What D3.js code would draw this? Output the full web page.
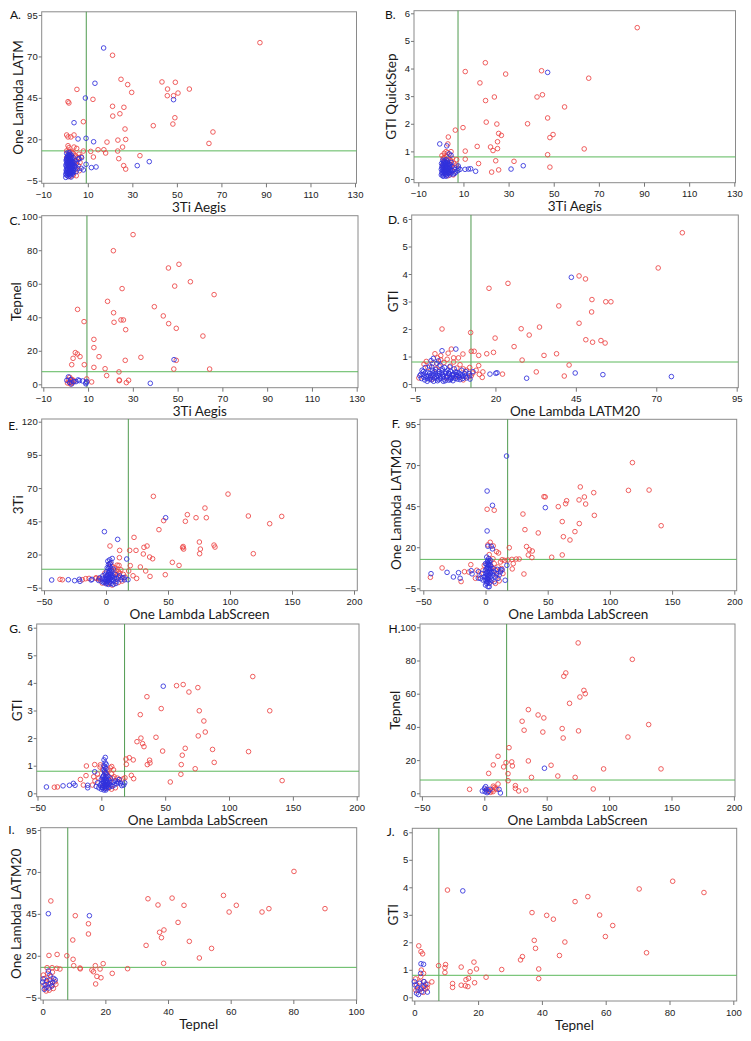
<!DOCTYPE html>
<html><head><meta charset="utf-8">
<script src="https://cdn.jsdelivr.net/npm/d3@7"></script>
<style>body{margin:0;background:#fff}svg{display:block}</style>
</head><body>
<svg id="chart" width="751" height="1041"></svg>
<script>
// ---------- tick labels ----------
const ticks3Ti = [-10,10,30,50,70,90,110,130];
const ticksLATM = [-5,20,45,70,95];
const ticksGTI = [0,1,2,3,4,5,6];
const ticksTepnel = [0,20,40,60,80,100];
const ticksLabScreen = [-50,0,50,100,150,200];
const ticks3TiY = [-5,20,45,70,95,120];

// ---------- panel labels ----------
const letters = ["A.","B.","C.","D.","E.","F.","G.","H.","I.","J."];
const xTitles = ["3Ti Aegis","3Ti Aegis","3Ti Aegis","One Lambda LATM20","One Lambda LabScreen","One Lambda LabScreen","One Lambda LabScreen","One Lambda LabScreen","Tepnel","Tepnel"];
const yTitles = ["One Lambda LATM","GTI QuickStep","Tepnel","GTI","3Ti","One Lambda LATM20","GTI","Tepnel","One Lambda LATM20","GTI"];
// cut-off reference lines (vertical = x cut-off, horizontal = y cut-off)
const vCuts = [9.3,7.6,9.5,12.4,18,17.8,18.2,17.9,8,7.7];
const hCuts = [13,0.8,7.5,0.8,8.9,12.6,0.8,8,13.1,0.8];

// ---------- series values [x, y] ----------
const aRed = [[87.3,78.3],[21.1,70.7],[24.9,56.2],[27.9,53],[29.7,48.3],[5.1,50.1],[12.3,44.1],[1.1,42.7],[1.5,41.9],[21.1,39.9],[26.2,39.3],[21.2,34],[24.4,35.4],[8,30.6],[26.7,26.2],[39.4,28.2],[43.3,54.6],[49.3,54.4],[45.8,50.3],[50.5,47.9],[55.6,50.3],[45.7,46.3],[48.5,46.3],[49.1,33],[48.2,29.2],[66.2,24.4],[64.4,17.5],[23.5,19.5],[27,19.9],[18.6,18.3],[25.6,15.3],[14.6,13.7],[17.2,13.7],[18,11.7],[11.3,12.7],[12.5,9.3],[23.4,12.9],[23.9,8.3],[33.4,10.1],[26.1,4.1],[27,2.0],[0.5,22.6],[1.1,21.4],[2.4,21.4],[3.8,22.6],[1.1,16.1],[1.5,14.9],[8,12.9],[3.8,15.3],[5,14.5],
  [3.5,11.5],[4.5,10],[5.5,9],[3.8,8.8],[5,7],[6.5,6],[4.2,5.5],[5.8,4],[4.6,2],[6.2,1],[3.5,-1.5],[4.8,-2],[2.5,12.5],[1.5,12.8],[0.5,13],[3,12],[6,11],[7,9.5],[2,-2.5],[0.5,9]];
const aBlue = [[17.1,75.1],[13.2,53.8],[8.9,44.9],[48.5,43.9],[3.8,30],[5.6,20.2],[9.2,20.6],[12.6,18.5],[32.2,4.1],[37.6,6.5],[13.7,3.3],[11.6,2.9],[9.2,4.9],[6,8.5],[7.2,8.9],
  [0.2,-1.5],[0.8,-1.8],[1.5,-1.2],[2.2,-1.6],[3,-1],[0.5,0],[1.2,0.3],[2,0.2],[2.8,0.5],[3.6,0],[0.3,1.5],[1,1.8],[1.8,1.4],[2.6,2],[3.4,1.6],[0.6,3],[1.4,3.3],[2.2,3],[3,3.4],[3.8,2.8],[0.2,4.6],[1,4.8],[1.8,4.5],[2.6,5],[3.4,4.6],[0.7,6.2],[1.5,6.4],[2.3,6.1],[3.1,6.6],[0.4,7.8],[1.2,8],[2,7.6],[2.8,8.2],[0.8,9.4],[1.6,9.6],[2.4,9.2],[1.2,10.8],[2,11],[0.5,11.5],[4.5,3.5],[5,5.5],[4.2,7],[5.5,2.2],[6,8],[7,2.5],[8,1.5],[4.8,0.5],[0.1,-3],[1.3,-2.5],[2.5,-2.8],
  [0.4,0.8],[1.6,0.9],[2.4,1.1],[3.2,0.4],[0.9,2.4],[1.7,2.2],[2.9,2.6],[0.3,3.8],[1.2,4],[2,3.9],[2.9,4],[0.6,5.5],[1.4,5.6],[2.1,5.3],[3,5.8],[0.3,7],[1,7.1],[1.8,6.9],[2.6,7.2],[0.6,8.6],[1.4,8.8],[2.2,8.4],[3.3,9],[1,10],[1.8,10.2],[2.6,10.5],[1.6,12],[0.2,-0.8],[1,-0.6],[1.9,-0.8],[2.7,-0.3],[3.6,1],[4,4.2],[3.8,6]];

const bRed = [[87,5.48],[19.7,4.21],[10.8,3.89],[28.7,3.8],[44.6,3.92],[65.5,3.65],[17.3,3.48],[23.7,2.97],[19.8,2.84],[42.6,2.97],[45,3.05],[54.8,2.61],[20.1,2.06],[24.8,1.99],[38.4,2],[47.3,2.21],[6.4,1.77],[9.8,1.86],[25.6,1.65],[26.8,1.58],[49.7,1.61],[48.3,1.5],[25.1,1.35],[16.1,1.18],[22,1.16],[23.1,1.03],[25.1,1.1],[63.5,1.09],[10.8,1.01],[47.3,0.88],[10.8,0.72],[24.3,0.66],[32.4,0.64],[16.7,0.56],[48.3,0.43],[25.6,0.33],[22.5,0.25],[3.3,1.52],[3.1,1.27],[2.3,0.99],[1.5,0.93],[4.5,0.99],[4.5,0.65],[1.1,0.75],
  [3.5,0.72],[4.2,0.68],[1.5,0.78],[2.5,0.82],[5,0.75],[3,0.95],[0.5,0.85],[4.5,0.5],[5.8,0.55],[6.2,0.42],[4.8,0.3],[3.2,0.12],[5.5,0.15],[6.8,0.5],[2,0.62],[0.8,0.5],[7,0.7]];
const bBlue = [[47.3,3.86],[-0.5,1.27],[2.6,1.2],[3.7,0.91],[4.5,0.86],[36.5,0.48],[31.1,0.36],[15.4,0.28],[10.7,0.35],[12.2,0.36],[13.2,0.37],[6.2,0.21],[7.7,0.47],[7.7,0.39],
  [0.2,0.15],[1,0.12],[1.8,0.18],[2.6,0.14],[3.4,0.2],[0.5,0.25],[1.3,0.28],[2.1,0.24],[2.9,0.3],[3.7,0.26],[0.2,0.35],[1,0.38],[1.8,0.34],[2.6,0.4],[3.4,0.36],[4.2,0.32],[0.6,0.46],[1.4,0.48],[2.2,0.44],[3,0.5],[3.8,0.46],[0.3,0.56],[1.1,0.58],[1.9,0.55],[2.7,0.6],[3.5,0.56],[1.5,0.66],[2.3,0.7],[0.8,0.68],[4.5,0.22],[5.2,0.3],[5,0.45],[6,0.35],[4.6,0.6],[6.5,0.25],[7.5,0.3],[8.5,0.35],[4,0.15],[5.5,0.18],
  [0.6,0.2],[1.4,0.21],[2.2,0.17],[3,0.22],[3.8,0.24],[0.9,0.31],[1.7,0.3],[2.5,0.32],[3.3,0.29],[0.5,0.41],[1.3,0.42],[2.1,0.4],[2.9,0.42],[3.9,0.4],[0.9,0.52],[1.7,0.51],[2.5,0.52],[3.3,0.5],[4.1,0.52],[1.2,0.62],[2,0.6],[2.9,0.65],[1,0.1],[2.3,0.1]];

const cRed = [[30.1,89.3],[21.3,79.7],[50.6,71.6],[45.9,69.4],[55.7,61.2],[48.7,58.6],[25.2,57.1],[66.3,53.5],[18.7,49.5],[5.3,44.7],[39.6,46.3],[21.4,42.7],[43.6,40.8],[8.2,37.4],[24.7,38.4],[25.8,38.4],[21.6,37],[46,36.2],[26.8,32.6],[49.4,33.4],[61.3,28.8],[12.6,26.8],[12.6,21.9],[4.3,18.9],[5.2,18.1],[6.4,16.5],[3.3,15.5],[14.9,16.5],[33.6,16.1],[26.6,14.3],[49.4,14.3],[2.7,11.7],[8.3,11.7],[12.6,10.1],[17.6,9.3],[48.3,9.1],[64.3,9.1],[23.8,7.4],[18.3,5.2],[23.9,2.6],[24,2.2],[28.1,2.4],[27.1,1.0],[9.4,3.2],[11.6,1.4],
  [1.2,2.5],[1.8,4.2],[2.5,1.5],[3,0.8],[0.8,0.8],[2.6,3.0],[3.3,2.5],[2.1,0.2],[1.6,1.2],[3.8,1.8]];
const cBlue = [[48.4,14.7],[37.8,0.6],[1.2,4.4],[6.1,2.2],[7.6,2],[9.1,1],[9.4,1.6],[4.6,1.6],[1.8,1],[2.6,0.2],[3.5,1.6],[0.5,2.4],[2.2,2.8],[9.0,0.3],[5.5,2.6]];

const dRed = [[78.1,5.5],[70.6,4.22],[23.9,3.66],[18,3.48],[46,3.93],[48,3.82],[50,3.07],[54.3,2.99],[55.9,2.99],[39.7,2.84],[49.9,2.62],[46,2.21],[33.7,2.07],[28,2.01],[30.5,1.78],[19.9,1.67],[48.1,1.61],[50.2,1.52],[52.8,1.58],[54.1,1.49],[25.8,1.36],[12.3,1.87],[3.4,2.0],[12.5,1.19],[13.4,1.19],[19.4,1.15],[17.3,1.1],[14.8,1.04],[35.1,1.04],[39,1.1],[28.3,0.87],[42.9,0.69],[14.8,0.67],[32.7,0.44],[16.1,0.44],[22.2,0.36],[41.4,0.29],[15.9,0.24],[6.3,1.27],[5.3,1.12],[7,0.95],[1.2,1.1],[3,1.03],[9.9,1.09],
  [-3.8,0.22],[-2.2,0.72],[-1,0.6],[0.5,0.75],[1.5,0.55],[2.5,0.65],[4,0.78],[5,0.9],[6,0.65],[7,0.8],[8,0.58],[9,0.7],[10,0.55],[11,0.5],[12,0.6],[13,0.4],[11.5,0.25],[10,0.15],[7.8,0.28],[4.8,0.22],[2,0.95],[3,0.88],[8.5,0.95],[-1.5,0.82],[0.3,0.18],[14,0.5],[15,0.35],[12.5,0.3]];
const dBlue = [[43.6,3.88],[7.7,1.27],[3.4,1.21],[18.3,0.36],[20.1,0.39],[20.5,0.41],[29.7,0.21],[44.8,0.4],[53.4,0.34],[74.7,0.27],[-0.5,0.65],[0.7,0.93],[2.3,0.84],[12.1,0.18],
  [-3,0.2],[-2.5,0.35],[-2,0.15],[-1.5,0.28],[-1,0.42],[-0.5,0.18],[0,0.3],[0.5,0.5],[1,0.22],[1.5,0.36],[2,0.12],[2.5,0.45],[3,0.26],[3.5,0.55],[4,0.18],[4.5,0.38],[5,0.3],[5.5,0.14],[6,0.46],[6.5,0.24],[7,0.36],[7.5,0.2],[8,0.42],[8.5,0.3],[9,0.16],[9.5,0.5],[10,0.28],[10.5,0.38],[11,0.22],[-2.8,0.5],[-1.8,0.6],[-0.8,0.3],[0.2,0.62],[1.2,0.45],[2.2,0.3],[3.2,0.4],[4.2,0.6],[5.2,0.5],[6.2,0.2],[7.2,0.55],[8.2,0.18],[9.2,0.36],[0.8,0.1],[3.8,0.1],[6.8,0.12],[-1.2,0.1],[2.8,0.68],[5.8,0.62],[12,0.3],[13,0.45],[-3.5,0.3],[1.8,0.75],[0,0.85],
  [-2.2,0.25],[-1.2,0.2],[-0.2,0.24],[0.8,0.32],[1.8,0.22],[2.8,0.2],[3.8,0.28],[4.8,0.26],[5.8,0.24],[6.8,0.3],[7.8,0.34],[8.8,0.24],[9.8,0.2],[-1.8,0.4],[-0.4,0.38],[0.6,0.4],[1.6,0.28],[2.6,0.38],[3.6,0.34],[4.6,0.44],[5.6,0.38],[6.6,0.34],[7.6,0.44],[8.6,0.4],[9.6,0.3],[10.6,0.28],[0.2,0.15],[2.4,0.16],[4.4,0.12],[6,0.16],[8,0.26],[1.4,0.52],[3.4,0.48],[5.4,0.4],[-2.4,0.45],[-3.2,0.35],[11.8,0.38],[10.8,0.45]];

const eRed = [[38.2,63.8],[98.4,65.5],[79.8,55],[65.6,50],[80.9,47.7],[72.6,47.7],[114.8,49],[141.7,48.7],[132,43.2],[64,45],[46.5,45.5],[42.7,38.7],[22.6,32.9],[3.2,26.4],[11,23.1],[19.1,23.1],[24.2,23.1],[30.6,25.4],[33.1,26.4],[61.8,25.1],[62.6,24.1],[62.2,26],[75.3,29.4],[87.1,27.1],[87.9,25.6],[76.1,24.1],[75.5,20.6],[118.8,20.6],[30.1,20.4],[10.8,17.6],[35.2,18.1],[37.6,16.8],[53.5,14.1],[58.9,11.8],[19.6,11.6],[10.5,11.8],[27.7,10.6],[32,7.6],[18.3,7.6],[35.5,3.5],[47.8,4.8],[24.7,2],[21.8,4],[-37.1,1.3],[-35.2,1],[-16.4,1.8],[-19.1,1],[-13.7,2],[-8.1,2],[-5.4,1.8],
  [6.5,6],[8,8],[7,10],[9,5],[10,7],[5,11],[8.5,3],[11,6],[12,8.5],[3.5,13],[-1,6],[-3,-1.5],[-6,1.5],[-8,2.5],[1,-2],[5,-3],[10,-1],[13,0],[9,12],[14,5],[15.5,3]];
const eBlue = [[48.1,47.7],[-1.3,37.2],[9.4,31.4],[16.7,16.6],[-43.8,0.8],[-30.4,1],[-25.3,0.3],[-21,-0.2],[-21.5,1.3],[-11.3,1.3],[-12,0.8],[14.5,2.5],[17.7,1],
  [-4,0],[-3,2],[-2,-1],[-1,1],[0,3],[1,0],[2,2],[3,-1],[4,1],[5,3],[6,0],[7,2],[8,-0.5],[9,1.5],[-2.5,4],[-0.5,5],[1.5,4.5],[3.5,5.5],[5.5,4],[7.5,5],[0.5,7],[2.5,8],[4.5,7.5],[1,10],[3,11],[2,12.5],[4,14],[3,16],[5,17],[1.5,15],[6,9],[10,3],[12,1],[13,2.5],[15,1],[11,4],[-5,2.5],[-6,0.5],[0,-2],[2,-2.5],[4,-2],[6,-2.5],[8,-1.8],
  [0,1],[1,2],[2,0],[3,1.5],[4,3],[5,1],[1,4],[3,3.5],[2,6],[4,5],[3,7],[1.5,2.5],[2.5,3],[3,13],[2,9.5],[4,9.5],[0.5,-1],[-1,-0.5]];

const fRed = [[118.1,71.5],[76.2,56.7],[114.9,54.6],[131.5,54.8],[87,53.2],[47,50.8],[48,50.6],[79.5,50.6],[65.2,48.3],[64.4,46.5],[75.2,48.8],[80.5,46.3],[58.5,44.7],[7,42.5],[1.3,43.1],[30.1,40.2],[87.5,39.4],[61.7,35.6],[75.4,34.4],[141.2,33.1],[31.7,30.7],[71.9,29.5],[42.4,28.7],[62.6,26.4],[67.9,24.4],[19.1,19.7],[33,20.4],[35.2,18.5],[37.6,17.7],[34.4,15.3],[37.3,13.7],[53.2,13.9],[61.7,15.3],[13.4,12.4],[15.3,12],[18,12.2],[21.2,12.6],[24.7,12.8],[27.1,12.8],[22.3,10],[21.5,6.8],[30.9,3.7],[1.9,21.4],[3.8,23],[6.2,20.8],[8.9,17.3],[10.5,16.5],[-34.9,7.4],[-44.3,1.7],[-16.9,5.1],[-13.4,4.9],[-8.1,1.1],[-19.6,-0.9],[-11.8,9.4],
  [5,8],[7,10],[8,6],[10,8],[12,11],[-1,9],[-2,6],[6,13],[9,3],[4,-1],[11,-0.5],[13,7],[-5,3],[-7,6],[3,15.5],[8,-2],[14,4]];
const fBlue = [[16.9,75.5],[1.3,54.2],[5.6,45.5],[48.1,44.1],[1.3,29.9],[1.9,20.6],[4.6,20.6],[5.6,19],[-43.8,3.9],[-30.9,4.7],[-25.8,1.9],[-21.7,4.5],[-20.4,1.1],[-11.5,5.7],[-10.8,3.8],[-5.6,5.1],[-5.8,1.2],[15.8,-0.1],[17.2,9],[12.3,6.2],[13.4,6.2],
  [0,-3],[1,-1],[2,1],[3,3],[1,5],[2,7],[3,9],[1.5,11],[2.5,13],[1,14],[3,-2],[2,0],[4,2],[0.5,4],[3.5,6],[1.5,8],[2.5,10],[4,12],[-1,2],[-2,0],[5,0],[6,3],[7,-1],[5,5],[8,2],[-3,4],[-4,1],[9,4],[10,1],[6,7],[4,9],[0,6],[0,10],[2,3],[3,-4],[2,-4],[7,5],[9.5,6.5],[11,3],[12,5],
  [1,1],[2,2],[3,0],[1,3],[2,5],[3,7],[1,7],[2,9],[3,11],[2,12],[1,-2],[0,0],[4,4],[0,2],[4,7],[2,-1],[3,5],[1,9.5]];

const gRed = [[118.6,4.23],[58.9,3.9],[64.1,3.94],[75.6,3.83],[68.6,3.67],[35.7,3.5],[46.9,3.07],[30.5,2.85],[76.7,2.99],[131.9,2.99],[80.3,2.62],[81.4,2.22],[75.9,2.08],[42.8,2.03],[31,2],[27.9,1.87],[32.3,1.8],[33.4,1.69],[65.7,1.63],[87.1,1.59],[48,1.53],[115.3,1.51],[63.4,1.38],[21.9,1.29],[19.3,1.24],[25,1.21],[37.8,1.2],[38.1,1.1],[36,1.04],[19.6,1.05],[88.4,1.12],[62.6,1.04],[73.5,0.89],[62.3,0.69],[23.5,0.65],[25.3,0.53],[54,0.41],[141.6,0.46],[18.5,0.56],[17,0.52],[-11.7,0.99],[-5.2,1.04],[-0.8,1.03],[-12,0.64],[-16.4,0.5],[-36.8,0.22],[-34.4,0.23],[-14.1,0.3],[7,0.92],[8.1,0.97],
  [4,0.75],[5,0.85],[3,0.7],[6,0.6],[7,0.45],[8,0.7],[9,0.55],[10,0.6],[-2,0.55],[-3,0.7],[-5,0.45],[-7,0.3],[1,0.85],[2,0.3],[6,0.2],[8,0.15],[11,0.2],[12.5,0.55],[-1,0.95],[-6,0.6],[14,0.5],[3.5,0.2],[9.5,0.85]];
const gBlue = [[48.5,3.88],[3.1,1.3],[2.1,1.21],[-5.2,0.78],[-43,0.23],[-30,0.27],[-25,0.29],[-20.6,0.29],[-21.9,0.36],[-10.7,0.29],[-10.7,0.2],[12.8,0.42],[14,0.5],[17.5,0.3],[18.3,0.38],
  [0,0.15],[1,0.2],[2,0.12],[3,0.25],[4,0.18],[5,0.3],[6,0.22],[-1,0.3],[-2,0.2],[0.5,0.35],[1.5,0.42],[2.5,0.32],[3.5,0.45],[4.5,0.38],[5.5,0.5],[6.5,0.4],[7.5,0.3],[8.5,0.25],[-3,0.38],[0,0.5],[1,0.58],[2,0.65],[3,0.55],[4,0.7],[2.5,0.8],[3.5,0.9],[2,1],[3,1.1],[1.5,0.48],[7,0.55],[9,0.4],[10,0.3],[11,0.45],[12,0.35],[-4,0.25],[5,0.62],[13.5,0.4],[15,0.35],[16,0.28],
  [2.5,0.18],[3.5,0.3],[2,0.38],[3,0.42],[4,0.32],[2.5,0.5],[3.5,0.6],[1.5,0.62],[3,0.75],[2,0.85],[4,0.48],[1,0.28],[0.5,0.22],[5,0.4],[6,0.32],[4.5,0.25],[3.5,0.12],[2.8,0.95],[3.8,1.05]];

const hRed = [[75.2,90.6],[118.6,80.7],[65.3,72.5],[63.7,70.5],[79.8,62],[80.9,60],[76.6,58],[68.3,54.2],[35.3,50.4],[43.1,47.2],[47.7,45.4],[30.3,43.4],[31.9,38],[46.9,36.9],[62.4,39],[75.5,37.6],[131.7,41.4],[63.2,33.3],[115.1,33.9],[19.8,27.5],[11,22.3],[35.3,19.5],[22,18.9],[17.4,18.5],[22.5,16.5],[7.2,17.1],[15.5,15.9],[53.5,16.9],[3.5,12],[19,11.8],[37.8,9.6],[58.9,10.4],[72.8,9.6],[95.6,14.7],[141.6,14.7],[19,7.6],[11,5.6],[24.9,4.6],[24.9,3.0],[27.6,1.4],[33.2,2.0],[87.3,2.6],[-11.8,2.4],
  [7.2,4.3],[8,3.5],[6.4,2],[4,1.4],[2.4,2.4],[9,2.8],[10,2.4],[5,0.6],[7,1]];
const hBlue = [[48.2,15.1],[1.1,4],[1.4,2],[0.6,1],[-1.6,1.4],[12.9,0.2],[11.8,2.4],[3.2,1],[4.6,2.4],[2.2,0.4],[0.2,3]];

const iRed = [[80.2,70.3],[33.6,54],[41.3,54.4],[57.7,56],[36.8,50.3],[45.1,50.1],[61.8,50.1],[59.5,46.1],[70,46.1],[72.2,48.1],[90.1,48.1],[2.6,52.7],[10.4,43.9],[14.6,39.1],[43.2,39.9],[14.6,33],[37.3,34],[38.7,35.4],[37.9,30.8],[9.6,29.4],[46.8,28.6],[33,26.2],[53.9,24.4],[2,20.2],[4.6,20.8],[7.7,20],[9.7,17.9],[9.9,14.1],[50,18.7],[38.6,15.5],[19.3,15.3],[16.8,14.1],[11.9,12.7],[12,12.2],[18.3,12.1],[27.1,12.3],[22.2,9.5],[15.7,11.5],[16.2,10.5],[17.3,7.7],[18.6,6.9],[16.9,3.2],[1.4,12.9],[3,12.9],[4.5,12.5],[5.5,12.1],
  [0.2,8.5],[0.7,6.5],[1.3,4.5],[1.8,3.5],[2.3,5.5],[2.9,2],[3.4,0.5],[2.1,-0.5],[1.1,-1],[0.4,2.5],[3.9,4.5],[2.6,7.5],[1.6,9.5],[3.1,10.2],[0.8,0.5],[4.2,3]];
const iBlue = [[1.8,45.1],[14.9,43.9],[1.8,10.9],[2.3,8.5],[0.2,6.2],[1.3,5.2],[2.9,2],[0.8,2.8],[3.2,4.2],[4,5.7],[0,4.3],[1.1,1.2],[2.5,3.5],[3.5,6.5],[0.5,0],[2,0.8]];

const jRed = [[81,4.22],[70.5,3.94],[90.8,3.81],[10.4,3.9],[54.4,3.66],[50.4,3.48],[36.9,3.08],[41.5,2.98],[58.1,2.99],[43.6,2.84],[62.2,2.61],[59.9,2.21],[37.6,2.07],[47.2,2.01],[38,1.78],[72.8,1.62],[45.5,1.52],[33.9,1.48],[33.3,1.36],[1.4,1.87],[2.1,1.66],[2.6,1.58],[18.7,1.28],[14.7,1.1],[17.5,0.93],[19.5,1.03],[27.4,1.01],[39,1.03],[7.6,1.15],[9.8,1.19],[9.6,1.08],[9.6,0.9],[22.5,0.73],[39,0.68],[17,0.69],[16.2,0.64],[18.9,0.53],[12,0.5],[12,0.36],[14.7,0.44],[16,0.42],[16.8,0.39],[5.5,0.56],[4.2,0.47],[2.2,0.99],[2.9,0.87],[0.4,0.67],
  [0.7,0.45],[1.2,0.27],[2.3,0.33],[2.8,0.18],[3.3,0.4],[1.7,0.56],[3.5,0.3],[3,0.57],[0.5,0.25],[2,0.75],[4,0.35]];
const jBlue = [[15.2,3.87],[2.1,1.22],[2.9,1.2],[2,0.87],[3,0.57],[4.1,0.19],[0.2,0.45],[1,0.35],[1.6,0.51],[2.3,0.2],[0.7,0.15],[2.8,0.38],[1.3,0.1],[0,0.57],[1.9,0.3],[3.6,0.48]];

// ---------- layout (positions only) ----------
const layout = [
  {red:aRed,blue:aBlue,xt:ticks3Ti,yt:ticksLATM,xr:[43.3,355],yr:[180.7,15],fr:[41.7,11.8,356.5,183.3],ylx:18,lt:[10,18.5]},
  {red:bRed,blue:bBlue,xt:ticks3Ti,yt:ticksGTI,xr:[418.3,734.3],yr:[179,13.3],fr:[414,10.7,735.5,182.7],ylx:391.7,lt:[385,18.5]},
  {red:cRed,blue:cBlue,xt:ticks3Ti,yt:ticksTepnel,xr:[43.3,356.7],yr:[384.3,216.7],fr:[41.7,215.7,358,387.7],ylx:16,lt:[9.5,225]},
  {red:dRed,blue:dBlue,xt:ticksLATM,yt:ticksGTI,xr:[415,736.7],yr:[384,219],fr:[411.7,215,738.3,387.7],ylx:393.3,lt:[388,224]},
  {red:eRed,blue:eBlue,xt:ticksLabScreen,yt:ticks3TiY,xr:[44,354],yr:[587.7,421.7],fr:[41.7,419,357.3,590.7],ylx:18.3,lt:[8.3,430]},
  {red:fRed,blue:fBlue,xt:ticksLabScreen,yt:ticksLATM,xr:[423.3,734.3],yr:[588.3,424],fr:[420,419.3,736.7,590.7],ylx:396.7,lt:[391.7,428.3]},
  {red:gRed,blue:gBlue,xt:ticksLabScreen,yt:ticksGTI,xr:[37.5,356.7],yr:[793.3,627.7],fr:[36.7,624,359,796.7],ylx:17.3,lt:[9.3,632.7]},
  {red:hRed,blue:hBlue,xt:ticksLabScreen,yt:ticksTepnel,xr:[421.9,733.9],yr:[793.3,627.3],fr:[420,624,735,796.7],ylx:395.7,lt:[388.5,632.7]},
  {red:iRed,blue:iBlue,xt:ticksTepnel,yt:ticksLATM,xr:[42.7,356],yr:[997.7,830],fr:[40.7,827.7,356.7,1000],ylx:16,lt:[8.3,834.3]},
  {red:jRed,blue:jBlue,xt:ticksTepnel,yt:ticksGTI,xr:[414.3,733.3],yr:[997.3,832.3],fr:[412.3,828.3,736.7,1001],ylx:393.3,lt:[386.7,835.7]}
];

const svg = d3.select("#chart");
const labelFont = "Lato, 'Open Sans', sans-serif";
const tickFont = "'Liberation Sans', Arial, sans-serif";
const fmt = d3.format("");

layout.forEach((p,i)=>{
  const g = svg.append("g");
  const xt = p.xt, yt = p.yt;
  const x = d3.scaleLinear().domain([xt[0], xt[xt.length-1]]).range(p.xr);
  const y = d3.scaleLinear().domain([yt[0], yt[yt.length-1]]).range(p.yr);
  const [fl,ft,frr,fb] = p.fr;

  // frame
  g.append("rect").attr("x",fl).attr("y",ft).attr("width",frr-fl).attr("height",fb-ft)
    .attr("fill","#fff").attr("stroke","#8a8a8a").attr("stroke-width",1);

  // minor + major ticks
  const xstep = (xt[1]-xt[0])/10, ystep=(yt[1]-yt[0])/10;
  const xMinor = d3.range(0,(xt.length-1)*10+1).map(k=>xt[0]+k*xstep);
  const yMinor = d3.range(0,(yt.length-1)*10+1).map(k=>yt[0]+k*ystep);
  const axX = g.append("g").attr("transform",`translate(0,${fb})`);
  axX.call(d3.axisBottom(x).tickValues(xMinor).tickSize(2).tickFormat(""));
  axX.call(d3.axisBottom(x).tickValues(xt).tickSize(4).tickFormat(fmt).tickSizeOuter(0));
  axX.selectAll(".domain").remove();
  axX.selectAll("line").attr("stroke","#777");
  axX.selectAll("text").attr("font-family",tickFont).attr("font-size",9.5).attr("fill","#222").attr("y",8).attr("dy","0.71em");

  const axY = g.append("g").attr("transform",`translate(${fl},0)`);
  axY.call(d3.axisLeft(y).tickValues(yMinor).tickSize(2).tickFormat(""));
  axY.call(d3.axisLeft(y).tickValues(yt).tickSize(3).tickFormat(fmt).tickSizeOuter(0));
  axY.selectAll(".domain").remove();
  axY.selectAll("line").attr("stroke","#777");
  axY.selectAll("text").attr("font-family",tickFont).attr("font-size",9.5).attr("fill","#222").attr("x",-4);

  // reference lines
  g.append("line").attr("x1",x(vCuts[i])).attr("x2",x(vCuts[i])).attr("y1",ft).attr("y2",fb)
    .attr("stroke","#4f9a4f").attr("stroke-width",1);
  g.append("line").attr("x1",fl).attr("x2",frr).attr("y1",y(hCuts[i])).attr("y2",y(hCuts[i]))
    .attr("stroke","#5cb85c").attr("stroke-width",1);

  // points
  g.append("g").selectAll("circle").data(p.red).join("circle")
    .attr("cx",d=>x(d[0])).attr("cy",d=>y(d[1])).attr("r",2.3)
    .attr("fill","none").attr("stroke","#ec4444").attr("stroke-width",0.95).attr("stroke-opacity",0.9);
  g.append("g").selectAll("circle").data(p.blue).join("circle")
    .attr("cx",d=>x(d[0])).attr("cy",d=>y(d[1])).attr("r",2.3)
    .attr("fill","none").attr("stroke","#3030dc").attr("stroke-width",0.95).attr("stroke-opacity",0.9);

  // axis titles
  g.append("text").attr("x",(fl+frr)/2).attr("y",fb+24).attr("dy","0.35em")
    .attr("text-anchor","middle").attr("font-family",labelFont).attr("font-size",13.5).attr("fill","#1a1a1a")
    .text(xTitles[i]);
  const cy = (ft+fb)/2;
  g.append("text").attr("transform",`translate(${p.ylx},${cy}) rotate(-90)`).attr("dy","0.35em")
    .attr("text-anchor","middle").attr("font-family",labelFont).attr("font-size",13.5).attr("fill","#1a1a1a")
    .text(yTitles[i]);
  // panel letter
  g.append("text").attr("x",p.lt[0]).attr("y",p.lt[1]).attr("font-family",labelFont).attr("font-size",12)
    .attr("fill","#111").text(letters[i]);
});
</script>
</body></html>
